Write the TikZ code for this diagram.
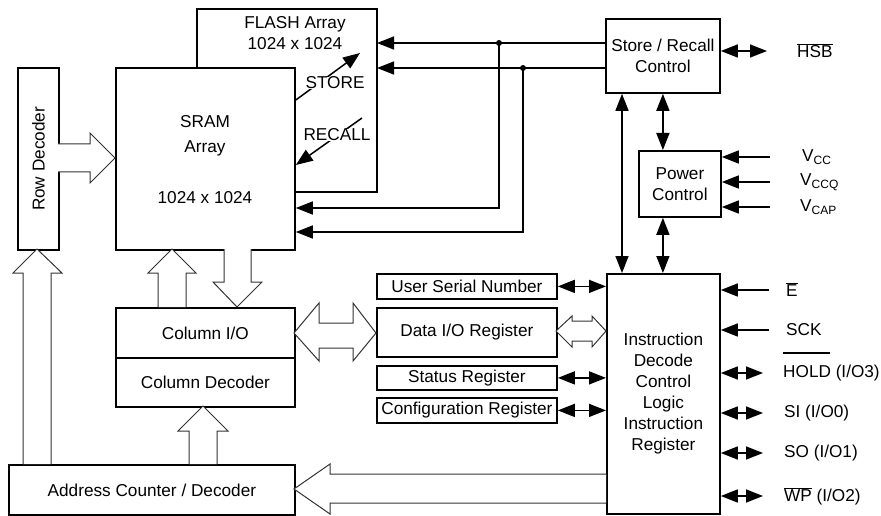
\documentclass[tikz,border=0pt]{standalone}
\usepackage{fontspec}
\setmainfont{Liberation Sans}
\usetikzlibrary{arrows.meta}
\newcommand{\lbl}{\fontsize{17.2}{21}\selectfont}
\newcommand{\subs}[1]{\raisebox{-0.35ex}{\fontsize{12}{12}\selectfont #1}}
\begin{document}
\begin{tikzpicture}[x=1pt,y=-1pt,
  box/.style={draw, line width=1.8pt, inner sep=0pt, align=center, font=\lbl},
  txt/.style={inner sep=0pt, align=center, font=\lbl},
  sig/.style={line width=1.5pt},
  tip/.tip={Triangle[length=17pt,width=13pt]},
  arr/.style={sig, -tip},
  darr/.style={sig, tip-tip},
  hollow/.style={draw=black!80, line width=1pt, fill=white}]
\useasboundingbox (0,0) rectangle (881,516);

% boxes
\node[box, anchor=north west, minimum width=41pt, minimum height=182pt] (row) at (17,67) {};
\node[txt, rotate=90] (rowt) at (row.center) {Row Decoder};
\node[box, anchor=north west, minimum width=179pt, minimum height=182pt] (sram) at (115,67) {};
\node[txt] (sramt1) at (205,122) {SRAM};
\node[txt] (sramt2) at (205,148) {Array};
\node[txt] (sramt3) at (205,198) {1024 x 1024};
\coordinate (flashL) at (197,9);
\coordinate (flashR) at (377,9);
\draw[line width=1.8pt] (flashL |- sram.north) -- (flashL) -- (flashR) -- (flashR |- 0,192) -- (sram.east |- 0,192);
\node[txt] (flasht) at (295,33) {FLASH Array\\1024 x 1024};

\node[box, anchor=north west, minimum width=179pt, minimum height=50pt] (col) at (115,307) {Column I/O};
\node[box, anchor=north west, minimum width=179pt, minimum height=49pt] (cold) at (115,357) {Column Decoder};
\node[box, anchor=north west, minimum width=286pt, minimum height=50pt] (addr) at (8,464) {Address Counter / Decoder};

\node[box, anchor=north west, minimum width=180pt, minimum height=25pt] (usn) at (376,273) {User Serial Number};
\node[box, anchor=north west, minimum width=180pt, minimum height=49pt] (dio) at (376,307) {Data I/O Register};
\node[box, anchor=north west, minimum width=180pt, minimum height=24pt] (stat) at (376,365) {Status Register};
\node[box, anchor=north west, minimum width=180pt, minimum height=25pt] (conf) at (376,397) {Configuration Register};

\node[box, anchor=north west, minimum width=114pt, minimum height=74pt] (src) at (605,18) {Store / Recall\\Control};
\node[box, anchor=north west, minimum width=82pt, minimum height=66pt] (pwr) at (638,150) {Power\\Control};
\node[box, anchor=north west, minimum width=113pt, minimum height=240pt] (idc) at (606,273) {Instruction\\Decode\\Control\\Logic\\Instruction\\Register};

% store / recall to flash and sram
\coordinate (j1) at (499,43);
\coordinate (j2) at (523,68);
\draw[arr] (src.west |- j1) -- (flashR |- j1);
\draw[arr] (src.west |- j2) -- (flashR |- j2);
\draw[arr] (j1) -- (j1 |- 0,208) -- (sram.east |- 0,208);
\draw[arr] (j2) -- (j2 |- 0,232) -- (sram.east |- 0,232);
\fill (j1) circle[radius=3pt];
\fill (j2) circle[radius=3pt];

% store / recall diagonal arrows
\coordinate (st1) at (sram.east |- 0,100);
\coordinate (st2) at (360,53);
\draw[arr] (st1) -- (st2);
\node[txt, fill=white] (store) at (335,83) {STORE};
\coordinate (rc1) at (362,118);
\coordinate (rc2) at (sram.east |- 0,165);
\draw[arr] (rc1) -- (rc2);
\node[txt, fill=white] (recall) at (337,135) {RECALL};

% HSB
\coordinate (hsb) at (767,51);
\draw[darr] (src.east |- hsb) -- (hsb);
\node[txt, anchor=west] (hsbt) at (797,51) {$\overline{\mbox{\lbl HSB}}$};

% vertical control arrows
\draw[darr] (src.south) -- (src.south |- pwr.north);
\draw[darr] (src.south -| 622,0) -- (idc.north -| 622,0);
\draw[darr] (pwr.south -| src.south) -- (idc.north -| src.south);

% power inputs
\coordinate (vcc) at (770,157);
\coordinate (vccq) at (770,182);
\coordinate (vcap) at (770,207);
\draw[arr] (vcc) -- (pwr.east |- vcc);
\draw[arr] (vccq) -- (pwr.east |- vccq);
\draw[arr] (vcap) -- (pwr.east |- vcap);
\node[txt, anchor=west] (vcct) at (802,157) {V\subs{CC}};
\node[txt, anchor=west] (vccqt) at (800,182) {V\subs{CCQ}};
\node[txt, anchor=west] (vcapt) at (800,207) {V\subs{CAP}};

% instruction decode right-side pins
\coordinate (pe) at (769,290);
\coordinate (psck) at (769,330);
\coordinate (phold) at (763,373);
\coordinate (psi) at (763,413);
\coordinate (pso) at (763,453);
\coordinate (pwp) at (763,496);
\draw[arr] (pe) -- (idc.east |- pe);
\draw[arr] (psck) -- (idc.east |- psck);
\draw[darr] (idc.east |- phold) -- (phold);
\draw[darr] (idc.east |- psi) -- (psi);
\draw[darr] (idc.east |- pso) -- (pso);
\draw[darr] (idc.east |- pwp) -- (pwp);
\node[txt, anchor=west] (et) at (786,290) {$\overline{\mbox{\lbl E}}$};
\node[txt, anchor=west] (sckt) at (786,330) {SCK};
\node[txt, anchor=west] (holdt) at (783,373) {HOLD (I/O3)};
\draw[line width=1.1pt] (holdt.west |- 0,353) -- ++(47,0);
\node[txt, anchor=west] (sit) at (784,413) {SI (I/O0)};
\node[txt, anchor=west] (sot) at (784,453) {SO (I/O1)};
\node[txt, anchor=west] (wpt) at (784,496) {$\overline{\mbox{\lbl WP}}$ (I/O2)};

% registers to instruction decode
\draw[darr] (usn.east) -- (idc.west |- usn.east);
\draw[darr] (stat.east) -- (idc.west |- stat.east);
\draw[darr] (conf.east) -- (idc.west |- conf.east);

% hollow bus arrows
\draw[hollow] (58,144) -- (90,144) -- (90,133) -- (115,158) -- (90,183) -- (90,172) -- (58,172);
\draw[hollow] (23,464) -- (23,273) -- (13,273) -- (37,249) -- (62,273) -- (51,273) -- (51,464);
\draw[hollow] (158,307) -- (158,273) -- (148,273) -- (172,249) -- (196,273) -- (186,273) -- (186,307);
\draw[hollow] (224,249) -- (224,282) -- (213,282) -- (237,307) -- (262,282) -- (251,282) -- (251,249);
\draw[hollow] (189,464) -- (189,431) -- (178,431) -- (203,406) -- (228,431) -- (217,431) -- (217,464);
\draw[hollow] (606,474) -- (330,474) -- (330,464) -- (294,489) -- (330,514) -- (330,503) -- (606,503);
\draw[hollow] (294,333) -- (319,303) -- (319,323) -- (353,323) -- (353,303) -- (376,333) -- (353,361) -- (353,348) -- (319,348) -- (319,361) -- cycle;
\draw[hollow] (556,331) -- (572,316) -- (572,321) -- (592,321) -- (592,316) -- (606,331) -- (592,347) -- (592,341) -- (572,341) -- (572,347) -- cycle;
\end{tikzpicture}
\end{document}
